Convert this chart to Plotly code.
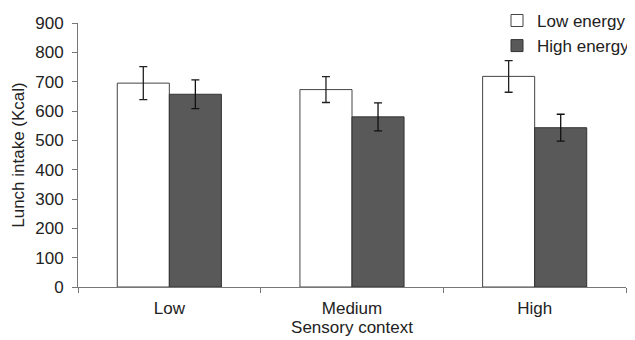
import plotly.graph_objects as go

categories = ["Low", "Medium", "High"]
low_energy = [695, 673, 718]
low_energy_err = [56, 44, 54]
high_energy = [657, 580, 543]
high_energy_err = [49, 48, 46]
y_ticks = [0, 100, 200, 300, 400, 500, 600, 700, 800, 900]

fnt = dict(family="Liberation Sans, Arial, sans-serif", size=17, color="#222")

fig = go.Figure()
fig.add_trace(go.Bar(
    x=categories, y=low_energy, name="Low energy", legendgroup="a",
    marker=dict(color="white", line=dict(color="#444", width=1)),
    error_y=dict(type="data", array=low_energy_err, color="#222", thickness=1.3, width=4),
))
fig.add_trace(go.Bar(
    x=categories, y=high_energy, name="High energy", legendgroup="b",
    marker=dict(color="#595959", line=dict(color="#333", width=1)),
    error_y=dict(type="data", array=high_energy_err, color="#111", thickness=1.3, width=4),
))

# page has an 8px body margin, so margins are offset by -8 to land on the reference pixels
fig.update_layout(
    width=635, height=340,
    margin=dict(l=70, r=17, t=15, b=61, autoexpand=False),
    paper_bgcolor="white", plot_bgcolor="white",
    font=fnt,
    barmode="group", bargap=0.43, bargroupgap=0,
    showlegend=True,
    legend=dict(x=0.7646, xanchor="left", y=1.076, yanchor="top",
                bgcolor="rgba(0,0,0,0)", font=fnt,
                traceorder="grouped", tracegroupgap=0, itemwidth=30),
)
fig.update_xaxes(
    showline=True, linecolor="#777", linewidth=1,
    ticks="outside", tickson="boundaries", ticklen=5, tickcolor="#777",
    ticklabelstandoff=6,
    showgrid=False,
    title=dict(text="Sensory context", standoff=2, font=fnt),
    tickfont=fnt,
)
fig.update_yaxes(
    range=[0, 900], tickvals=y_ticks,
    showline=True, linecolor="#777", linewidth=1,
    ticks="outside", ticklen=5, tickcolor="#777",
    ticklabelstandoff=5,
    showgrid=False, zeroline=False,
    title=dict(text="Lunch intake (Kcal)", standoff=6, font=fnt),
    tickfont=fnt,
)

fig.write_html("out.html")
